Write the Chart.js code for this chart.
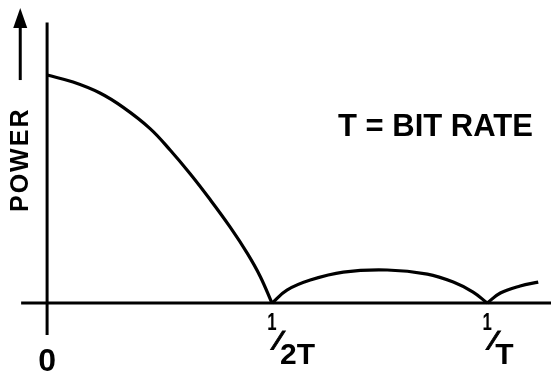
<!DOCTYPE html>
<html>
<head>
<meta charset="utf-8">
<script src="https://cdn.jsdelivr.net/npm/chart.js@4/dist/chart.umd.min.js"></script>
<style>
    html, body { margin: 0; padding: 0; background: #fff; }
    #wrap { width: 551px; height: 374px; position: relative; }
</style>
</head>
<body>
<div id="wrap"><canvas id="spectrumChart"></canvas></div>
<script>
// frequency in units of 1/T, power relative to the value at f = 0
const mainLobeFreq = [0, 0.059, 0.120, 0.173, 0.234, 0.280, 0.325, 0.370, 0.416, 0.455, 0.484, 0.511];
const mainLobePower = [1.0, 0.969, 0.921, 0.858, 0.765, 0.670, 0.567, 0.455, 0.333, 0.218, 0.118, 0];
const sideLobeFreq = [0.511, 0.545, 0.598, 0.673, 0.773, 0.864, 0.923, 0.968, 1.0];
const sideLobePower = [0, 0.057, 0.101, 0.136, 0.145, 0.127, 0.092, 0.048, 0];
const tailFreq = [1.0, 1.030, 1.075, 1.116];
const tailPower = [0, 0.044, 0.075, 0.092];

const tickValues = [0, 0.511, 1.0];
const tickLabels = ['0', '1/2T', '1/T'];
const axisTitle = 'POWER';
const noteText = 'T = BIT RATE';

const FONT = '"Liberation Sans", Arial, sans-serif';
const ink = '#000';

function toPoints(xs, ys) {
    return xs.map((x, i) => ({ x: x, y: ys[i] }));
}

function lobe(xs, ys) {
    return {
        data: toPoints(xs, ys),
        borderColor: ink,
        borderWidth: 3.2,
        pointRadius: 0,
        fill: false,
        tension: 0.4
    };
}

// axes, arrow and all lettering are drawn by hand on top of the hidden scales
const sketchPlugin = {
    id: 'sketch',
    beforeDatasetsDraw(chart) {
        const ctx = chart.ctx;
        const xs = chart.scales.x;
        const ys = chart.scales.y;
        ctx.save();
        ctx.strokeStyle = ink;
        ctx.lineWidth = 3;
        ctx.lineCap = 'butt';
        // frequency axis
        ctx.beginPath();
        ctx.moveTo(xs.getPixelForValue(-0.059), ys.getPixelForValue(0));
        ctx.lineTo(xs.getPixelForValue(1.145), ys.getPixelForValue(0));
        ctx.stroke();
        // power axis
        ctx.beginPath();
        ctx.moveTo(xs.getPixelForValue(0), ys.getPixelForValue(-0.14));
        ctx.lineTo(xs.getPixelForValue(0), ys.getPixelForValue(1.23));
        ctx.stroke();
        ctx.restore();
    },
    afterDraw(chart) {
        const ctx = chart.ctx;
        const xs = chart.scales.x;
        const ys = chart.scales.y;
        ctx.save();
        ctx.fillStyle = ink;
        ctx.strokeStyle = ink;

        // arrow next to the axis title
        const ax = xs.getPixelForValue(-0.061);
        const aTip = ys.getPixelForValue(1.294);
        const aBase = ys.getPixelForValue(1.215);
        ctx.lineWidth = 3;
        ctx.beginPath();
        ctx.moveTo(ax, ys.getPixelForValue(0.978));
        ctx.lineTo(ax, aBase);
        ctx.stroke();
        ctx.beginPath();
        ctx.moveTo(ax, aTip);
        ctx.lineTo(ax - 7, aBase + 2);
        ctx.lineTo(ax + 7, aBase + 2);
        ctx.closePath();
        ctx.fill();

        // vertical axis title
        ctx.save();
        ctx.translate(28, 212);
        ctx.rotate(-Math.PI / 2);
        ctx.font = 'bold 25px ' + FONT;
        ctx.letterSpacing = '2px';
        ctx.textAlign = 'left';
        ctx.textBaseline = 'alphabetic';
        ctx.fillText(axisTitle, 0, 0);
        ctx.restore();

        // note
        ctx.font = 'bold 31px ' + FONT;
        ctx.textAlign = 'left';
        ctx.textBaseline = 'alphabetic';
        ctx.fillText(noteText, 338, 136);

        // tick labels, fractions written as raised 1 / lowered denominator
        tickLabels.forEach((label, i) => {
            const px = xs.getPixelForValue(tickValues[i]);
            const parts = label.split('/');
            if (parts.length === 1) {
                ctx.font = 'bold 32px ' + FONT;
                ctx.textAlign = 'center';
                ctx.fillText(parts[0], px, 371);
                return;
            }
            ctx.textAlign = 'center';
            ctx.font = 'bold 24px ' + FONT;
            ctx.save();
            ctx.translate(px, 330);
            ctx.scale(0.7, 1);
            ctx.fillText(parts[0], 0, 0);
            ctx.restore();
            ctx.save();
            ctx.translate(px + 2, 349);
            ctx.transform(1, 0, -0.45, 1, 0, 0);
            ctx.font = 'bold 25px ' + FONT;
            ctx.lineWidth = 1;
            ctx.fillText('/', 0, 0);
            ctx.strokeText('/', 0, 0);
            ctx.restore();
            ctx.textAlign = 'left';
            ctx.font = 'bold 30px ' + FONT;
            ctx.fillText(parts[1], px + 8, 364);
        });
        ctx.restore();
    }
};

new Chart(document.getElementById('spectrumChart'), {
    type: 'line',
    data: {
        datasets: [
            lobe(mainLobeFreq, mainLobePower),
            lobe(sideLobeFreq, sideLobePower),
            lobe(tailFreq, tailPower)
        ]
    },
    options: {
        responsive: true,
        maintainAspectRatio: false,
        animation: false,
        layout: { padding: 0 },
        plugins: {
            legend: { display: false },
            title: { display: false },
            tooltip: { enabled: false }
        },
        scales: {
            x: { type: 'linear', display: false, min: -0.107, max: 1.145 },
            y: { type: 'linear', display: false, min: -0.311, max: 1.329 }
        }
    },
    plugins: [sketchPlugin]
});
</script>
</body>
</html>
